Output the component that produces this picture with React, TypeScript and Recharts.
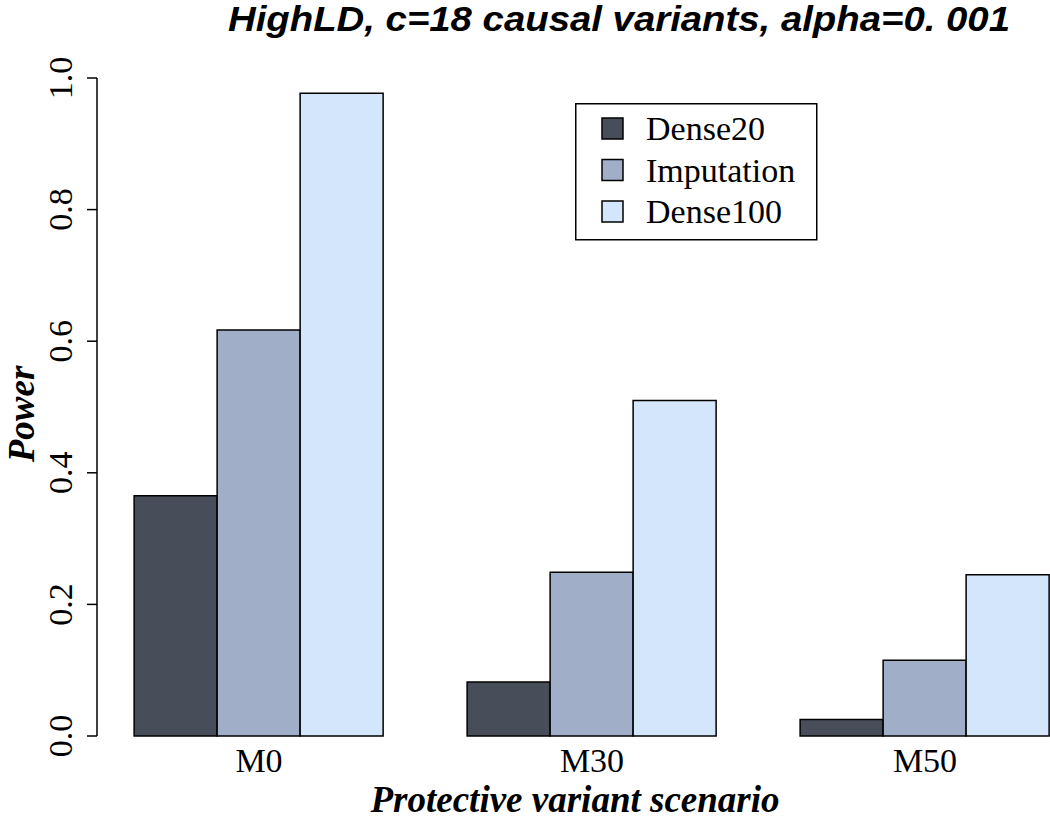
import React from 'react';
import { BarChart, Bar, XAxis, YAxis, Customized } from 'recharts';

const categories = ['M0', 'M30', 'M50'];
const dense20 = [0.365, 0.082, 0.025];
const imputation = [0.617, 0.249, 0.115];
const dense100 = [0.977, 0.51, 0.245];
const yTicks = [0, 0.2, 0.4, 0.6, 0.8, 1.0];

const seriesNames = ['Dense20', 'Imputation', 'Dense100'];
const seriesColors = ['#474e5a', '#a0aec8', '#d3e6fb'];

const data = categories.map((c, i) => ({
  cat: c,
  Dense20: dense20[i],
  Imputation: imputation[i],
  Dense100: dense100[i],
}));

const SERIF = '"Liberation Serif", "Times New Roman", serif';

const YTick = (props: any) => {
  const { x, y, payload } = props;
  return (
    <text
      x={x - 13}
      y={y}
      transform={`rotate(-90, ${x - 13}, ${y})`}
      textAnchor="middle"
      fontFamily={SERIF}
      fontSize={34}
      fill="#000"
    >
      {Number(payload.value).toFixed(1)}
    </text>
  );
};

const XTick = (props: any) => {
  const { x, y, payload } = props;
  return (
    <text x={x} y={y + 28} textAnchor="middle" fontFamily={SERIF} fontSize={34} fill="#000">
      {payload.value}
    </text>
  );
};

const Overlay = () => (
  <g>
    <g transform="translate(575, 103)">
      <rect x={0.75} y={0.75} width={241} height={136} fill="#fff" stroke="#000" strokeWidth={1.5} />
      {seriesNames.map((n, i) => (
        <g key={n}>
          <rect x={27} y={15 + i * 41.5} width={21} height={21} fill={seriesColors[i]} stroke="#000" strokeWidth={1.5} />
          <text x={71} y={37 + i * 41.5} fontFamily={SERIF} fontSize={34} fill="#000">
            {n}
          </text>
        </g>
      ))}
    </g>
    <text
      x={619}
      y={31}
      textAnchor="middle"
      fontFamily='"Liberation Sans Narrow", "Liberation Sans", Arial, sans-serif'
      fontWeight="bold"
      fontStyle="italic"
      fontSize={35}
      textLength={782}
      lengthAdjust="spacingAndGlyphs"
      fill="#000"
    >
      HighLD, c=18 causal variants, alpha=0. 001
    </text>
    <text
      x={34}
      y={414}
      transform="rotate(-90, 34, 414)"
      textAnchor="middle"
      fontFamily={SERIF}
      fontWeight="bold"
      fontStyle="italic"
      fontSize={37}
      fill="#000"
    >
      Power
    </text>
    <text
      x={575}
      y={812}
      textAnchor="middle"
      fontFamily={SERIF}
      fontWeight="bold"
      fontStyle="italic"
      fontSize={37}
      fill="#000"
    >
      Protective variant scenario
    </text>
  </g>
);

export default function App() {
  return (
    <div
      style={{
        position: 'absolute',
        left: 0,
        top: 0,
        width: 1050,
        height: 820,
        overflow: 'hidden',
        background: '#fff',
      }}
    >
      <BarChart
        width={1100}
        height={820}
        data={data}
        margin={{ top: 78, right: 8.5, bottom: 0, left: 0 }}
        barCategoryGap="12.5%"
        barGap={0}
      >
        <XAxis
          dataKey="cat"
          height={84}
          axisLine={false}
          tickLine={false}
          padding={{ left: -4.5, right: 0 }}
          tick={<XTick />}
          interval={0}
        />
        <YAxis
          width={97}
          domain={[0, 1]}
          ticks={yTicks}
          tickSize={10}
          axisLine={{ stroke: '#000', strokeWidth: 1.5 }}
          tickLine={{ stroke: '#000', strokeWidth: 1.5 }}
          tick={<YTick />}
          interval={0}
        />
        {seriesNames.map((n, i) => (
          <Bar
            key={n}
            dataKey={n}
            fill={seriesColors[i]}
            stroke="#000"
            strokeWidth={1.5}
            isAnimationActive={false}
          />
        ))}
        <Customized component={<Overlay />} />
      </BarChart>
    </div>
  );
}
